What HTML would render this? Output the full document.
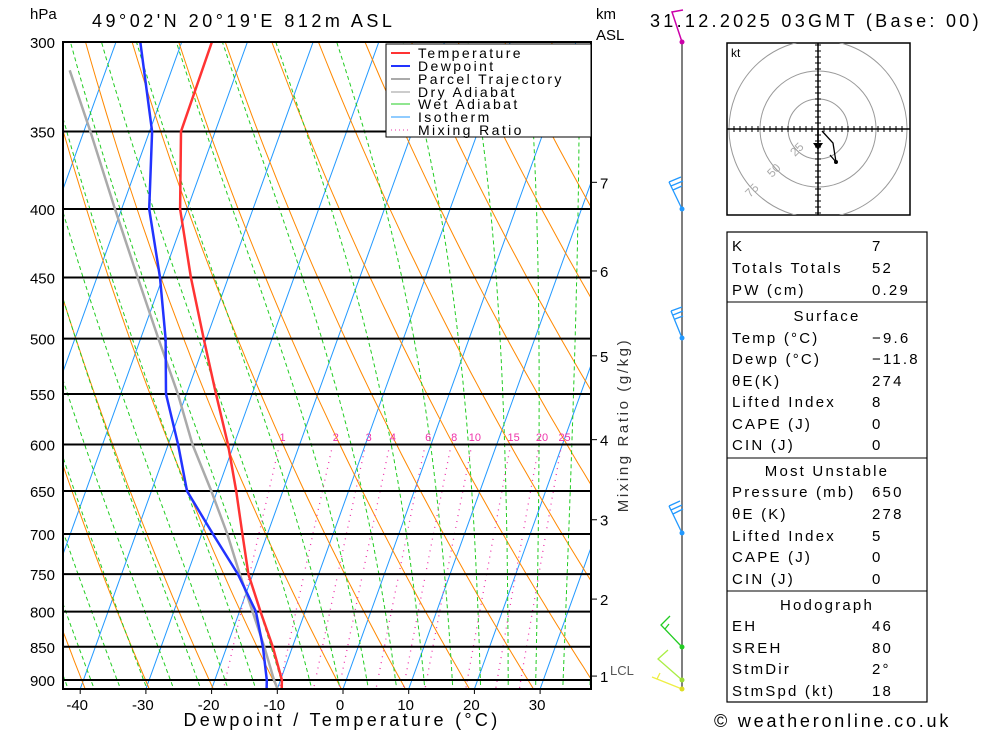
<!DOCTYPE html>
<html><head><meta charset="utf-8">
<style>
body{margin:0;background:#fff;width:1000px;height:733px;overflow:hidden;font-family:"Liberation Sans",sans-serif;}
svg{display:block}
text{font-family:"Liberation Sans","DejaVu Sans",sans-serif;}
</style></head>
<body>
<svg id="chart" width="1000" height="733" viewBox="0 0 1000 733" xmlns="http://www.w3.org/2000/svg">
<defs><clipPath id="plotclip"><rect x="63" y="42" width="528" height="647"/></clipPath>
<clipPath id="hodoclip"><rect x="727" y="43" width="183" height="172"/></clipPath></defs>
<g id="bg" clip-path="url(#plotclip)"></g>
<g id="plines"></g>
<g id="series" clip-path="url(#plotclip)"></g>
<rect x="63" y="42" width="528" height="647" fill="none" stroke="#000" stroke-width="2"/>
<g id="axes"></g>

<text x="30" y="19" font-size="15" fill="#000">hPa</text>
<text x="92" y="27" font-size="18" letter-spacing="3.5" fill="#000">49°02'N 20°19'E 812m ASL</text>
<text x="650" y="27" font-size="18" letter-spacing="3.3" fill="#000">31.12.2025 03GMT (Base: 00)</text>
<text x="596" y="19" font-size="15" fill="#000">km</text>
<text x="596" y="40" font-size="15" fill="#000">ASL</text>
<text x="342" y="726" font-size="18" letter-spacing="3.3" text-anchor="middle" fill="#000">Dewpoint / Temperature (°C)</text>
<text transform="translate(628,425) rotate(-90)" font-size="15" letter-spacing="2.6" text-anchor="middle" fill="#333">Mixing Ratio (g/kg)</text>

<g letter-spacing="2.4">
<rect x="386" y="44" width="205" height="93" fill="#fff" stroke="#000" stroke-width="1"/>
<line x1="391" y1="53" x2="410" y2="53" stroke="#f33" stroke-width="2"/><text x="418" y="58" font-size="14">Temperature</text>
<line x1="391" y1="66" x2="410" y2="66" stroke="#23f" stroke-width="2"/><text x="418" y="71" font-size="14">Dewpoint</text>
<line x1="391" y1="79" x2="410" y2="79" stroke="#aaa" stroke-width="2"/><text x="418" y="84" font-size="14">Parcel Trajectory</text>
<line x1="391" y1="92" x2="410" y2="92" stroke="#999" stroke-width="1"/><text x="418" y="97" font-size="14">Dry Adiabat</text>
<line x1="391" y1="104" x2="410" y2="104" stroke="#2c2" stroke-width="1"/><text x="418" y="109" font-size="14">Wet Adiabat</text>
<line x1="391" y1="117" x2="410" y2="117" stroke="#29f" stroke-width="1"/><text x="418" y="122" font-size="14">Isotherm</text>
<line x1="391" y1="130" x2="410" y2="130" stroke="#e3a" stroke-width="1" stroke-dasharray="1,3"/><text x="418" y="135" font-size="14">Mixing Ratio</text>
</g>

<g id="wind">
<line x1="682" y1="42" x2="682" y2="689" stroke="#555" stroke-width="1.5"/>
<polyline points="682,42 672,12 683,10" fill="none" stroke="#c0a" stroke-width="1.5"/>
<circle cx="682" cy="42" r="2.5" fill="#c0a"/>
<path d="M682,209 L669,182 M669,182 L681,177 M671,186 L683,181 M673,190 L682,186" fill="none" stroke="#29f" stroke-width="1.3"/>
<circle cx="682" cy="209" r="2.5" fill="#29f"/>
<path d="M682,338 L671,311 M671,311 L682,307 M673,315 L683,311 M675,319 L683,316" fill="none" stroke="#29f" stroke-width="1.3"/>
<circle cx="682" cy="338" r="2.5" fill="#29f"/>
<path d="M682,533 L669,506 M669,506 L680,501 M671,510 L682,505 M673,514 L683,509" fill="none" stroke="#29f" stroke-width="1.3"/>
<circle cx="682" cy="533" r="2.5" fill="#29f"/>
<path d="M682,647 L661,625 L670,616 M665,629 L669,624" fill="none" stroke="#2c2" stroke-width="1.3"/>
<circle cx="682" cy="647" r="2.5" fill="#2c2"/>
<path d="M682,680 L658,659 L668,650" fill="none" stroke="#ae4" stroke-width="1.3"/>
<circle cx="682" cy="680" r="2.5" fill="#9d3"/>
<path d="M682,689 L652,677 M657,679 L660,673" fill="none" stroke="#ee4" stroke-width="1.3"/>
<circle cx="682" cy="689" r="2.5" fill="#dd2"/>
</g>

<g>
<rect x="727" y="43" width="183" height="172" fill="#fff" stroke="#000" stroke-width="1.5"/>
<g clip-path="url(#hodoclip)">
<circle cx="818" cy="129" r="30" fill="none" stroke="#999"/>
<circle cx="818" cy="129" r="58" fill="none" stroke="#999"/>
<circle cx="818" cy="129" r="89" fill="none" stroke="#999"/>
</g>
<line x1="727" y1="129" x2="910" y2="129" stroke="#000" stroke-width="1.5"/>
<line x1="818" y1="43" x2="818" y2="215" stroke="#000" stroke-width="1.5"/>
<g id="hodoticks"></g>
<text x="731" y="57" font-size="12">kt</text>
<text transform="translate(795,157) rotate(-45)" font-size="12" fill="#aaa">25</text>
<text transform="translate(772,178) rotate(-45)" font-size="12" fill="#aaa">50</text>
<text transform="translate(750,198) rotate(-45)" font-size="12" fill="#aaa">75</text>
<polyline points="822,131 833,143 836,162 830,155" fill="none" stroke="#000" stroke-width="1.3"/>
<circle cx="836" cy="162" r="2" fill="#000"/>
<line x1="818" y1="129" x2="818" y2="148" stroke="#000" stroke-width="1.5"/>
<polygon points="813,143 823,143 818,150" fill="#000"/>
</g>

<g id="table" font-size="15" letter-spacing="2.2">
<rect x="727" y="232" width="200" height="470" fill="#fff" stroke="#000" stroke-width="1.2"/>
<line x1="727" y1="302" x2="927" y2="302" stroke="#000"/>
<line x1="727" y1="458" x2="927" y2="458" stroke="#000"/>
<line x1="727" y1="591" x2="927" y2="591" stroke="#000"/>
</g>

<g id="footer"><text x="714" y="727" font-size="18" letter-spacing="2.8" fill="#000">© weatheronline.co.uk</text></g>
</svg>
<script>
// ---- data ----
const pressures = [300,350,400,450,500,550,600,650,700,750,800,850,900,915];
const tempValues = [-55.4,-55.2,-51.1,-45.7,-40.4,-35.5,-30.9,-27.1,-23.8,-20.7,-16.8,-13.0,-9.8,-9.3];
const dewValues = [-66.3,-59.6,-55.8,-50.4,-46.2,-43.1,-38.5,-34.6,-28.3,-22.3,-17.5,-14.5,-12.1,-11.6];
const parcelPressures = [315,350,400,450,500,550,600,650,700,750,800,850,900,915];
const parcelValues = [-75.5,-69.0,-61.0,-53.8,-47.3,-41.3,-36.3,-30.9,-26.1,-22.0,-18.0,-14.3,-11.0,-9.9];
const pressureTicks = [300,350,400,450,500,550,600,650,700,750,800,850,900];
const tempTicks = [-40,-30,-20,-10,0,10,20,30];
const mixingRatios = [1,2,3,4,6,8,10,15,20,25];
const kmTicks = [7,6,5,4,3,2,1];
const kmPressures = [382,445,515,595,683,783,894];
const tableLabels = ["K","Totals Totals","PW (cm)","Surface","Temp (°C)","Dewp (°C)","θE(K)","Lifted Index","CAPE (J)","CIN (J)","Most Unstable","Pressure (mb)","θE (K)","Lifted Index","CAPE (J)","CIN (J)","Hodograph","EH","SREH","StmDir","StmSpd (kt)"];
const tableValues = ["7","52","0.29","","−9.6","−11.8","274","8","0","0","","650","278","5","0","0","","46","80","2°","18"];
const tableRowY = [245,267,289,315,337,358,380,401,423,444,470,491,513,535,556,578,604,625,647,668,690];

// ---- axes ----
const NS="http://www.w3.org/2000/svg";
const yP = p => 42 + 580.7*(Math.log(p)-Math.log(300));
const xT = (T,p) => 343 + 6.57*T + (689 - yP(p))*0.36;
function mk(tag, attrs, parent){const e=document.createElementNS(NS,tag);for(const k in attrs)e.setAttribute(k,attrs[k]);parent.appendChild(e);return e;}
function pathFrom(pts){return pts.map((q,i)=>(i?'L':'M')+q[0].toFixed(1)+','+q[1].toFixed(1)).join(' ');}
const bg=document.getElementById('bg'), ser=document.getElementById('series'), ax=document.getElementById('axes'), pl=document.getElementById('plines');

for(let T=-130;T<=50;T+=10){
  const l=mk('line',{x1:xT(T,925),y1:yP(925),x2:xT(T,290),y2:yP(290),stroke:'#29f','stroke-width':1},bg);
  
  
}
for(let th=200;th<=480;th+=10){
  const pts=[];for(let p=290;p<=930;p+=10){const T=th*Math.pow(p/1000,0.2857)-273.15;pts.push([xT(T,p),yP(p)]);}
  const e=mk('path',{d:pathFrom(pts),fill:'none',stroke:'#f80','stroke-width':1},bg);
  
  
}
function es(T){return 6.112*Math.exp(17.67*T/(T+243.5));}
for(let tw=-40;tw<=40;tw+=4){
  let T=tw+273.15;const pts=[];
  for(let p=1000;p>=280;p-=2){
    if(p<=930)pts.push([xT(T-273.15,p),yP(p)]);
    const e=es(T-273.15);const rs=0.622*e/(p-e);
    const dTdp=(1/p)*(287*T+2.5e6*rs)/(1005+2.5e6*2.5e6*rs*0.622/(287*T*T));
    T-=dTdp*2;
  }
  const e=mk('path',{d:pathFrom(pts),fill:'none',stroke:'#2c2','stroke-width':1,'stroke-dasharray':'4,3'},bg);
  
  
}
mixingRatios.forEach(w=>{
  const pts=[];
  for(let p=600;p<=930;p+=10){const e=w/1000*p/(0.622+w/1000);const L=Math.log(e/6.112);const Td=243.5*L/(17.67-L);pts.push([xT(Td,p),yP(p)]);}
  const e=mk('path',{d:pathFrom(pts),fill:'none',stroke:'#e3a','stroke-width':1.3,'stroke-dasharray':'1,5'},bg);
  
  
  const t=mk('text',{x:pts[0][0]+3,y:441,'font-size':11,fill:'#e3a','text-anchor':'middle'},ax);
  t.textContent=w;
  
  
});
pressureTicks.forEach(p=>{
  const y=yP(p);
  const l=mk('line',{x1:63,y1:y,x2:591,y2:y,stroke:'#000','stroke-width':2},pl);
  
  
  const t=mk('text',{x:55,y:y+6,'font-size':15,'text-anchor':'end'},ax);
  t.textContent=p;
  
  
});
tempTicks.forEach(T=>{
  const x=343+6.57*T-3;
  mk('line',{x1:x+3,y1:689,x2:x+3,y2:694,stroke:'#000'},ax);
  const t=mk('text',{x:x,y:710,'font-size':15,'text-anchor':'middle'},ax);
  t.textContent=T;
  
  
});
kmTicks.forEach((k,i)=>{
  const y=yP(kmPressures[i]);
  mk('line',{x1:591,y1:y,x2:597,y2:y,stroke:'#000'},ax);
  const t=mk('text',{x:600,y:y+6,'font-size':15},ax);
  t.textContent=k;
  
  
});
{const t=mk('text',{x:610,y:675,'font-size':13,fill:'#555'},ax);t.textContent='LCL';

}

function series(ps,vals,color,w,name){
  const pts=ps.map((p,i)=>[xT(vals[i],p),yP(p)]);
  const e=mk('path',{d:pathFrom(pts),fill:'none',stroke:color,'stroke-width':w,'stroke-linejoin':'round'},ser);
  
  
}
series(parcelPressures,parcelValues,'#aaa',2.5,'parcel-trajectory-line');
series(pressures,dewValues,'#23f',2.5,'dewpoint-line');
series(pressures,tempValues,'#f33',2.5,'temperature-line');

const ht=document.getElementById('hodoticks');
for(let i=-14;i<=14;i++){if(!i)continue;const d=i*6;
  if(Math.abs(d)<=88) mk('line',{x1:818+d,y1:126,x2:818+d,y2:132,stroke:'#000'},ht);
  if(Math.abs(d)<=84) mk('line',{x1:815,y1:129+d,x2:821,y2:129+d,stroke:'#000'},ht);}

const tb=document.getElementById('table');
const headers=new Set([3,10,16]);
tableLabels.forEach((lab,i)=>{
  const y=tableRowY[i]+6;
  const t=mk('text',{x:headers.has(i)?827:732,y:y,'font-size':15,'text-anchor':headers.has(i)?'middle':'start'},tb);
  t.textContent=lab;
  
  
  if(tableValues[i]){const v=mk('text',{x:872,y:y,'font-size':15},tb);v.textContent=tableValues[i];
  
  }
});
</script>
</body></html>
